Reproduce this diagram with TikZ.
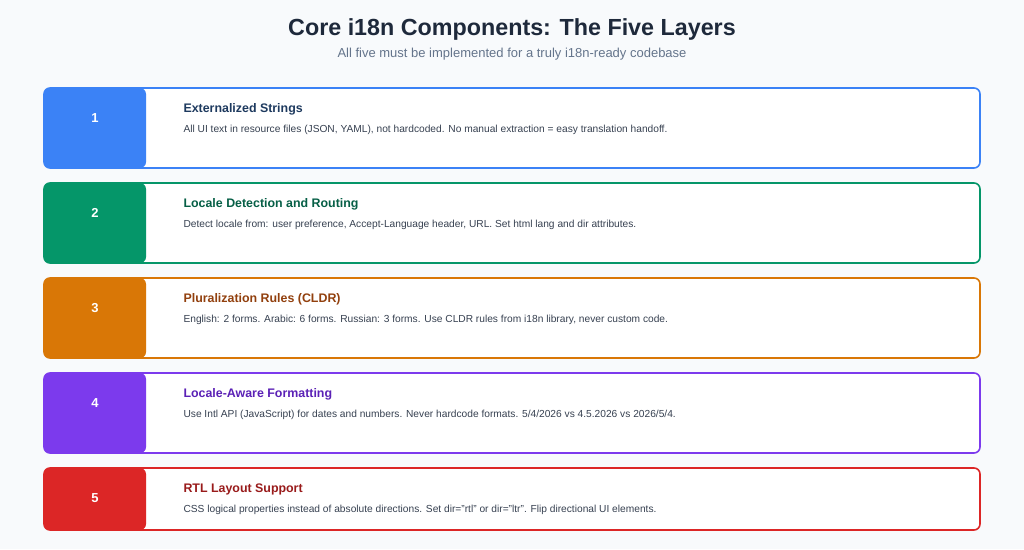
\documentclass[tikz,border=0pt]{standalone}
\usepackage{fontspec}
\setmainfont{Liberation Sans}
\definecolor{bg}{HTML}{F8FAFC}
\definecolor{ttl}{HTML}{1E293B}
\definecolor{sub}{HTML}{64748B}
\definecolor{desc}{HTML}{374151}
\definecolor{cA}{HTML}{3B82F6}\definecolor{tA}{HTML}{1E3A5F}
\definecolor{cB}{HTML}{059669}\definecolor{tB}{HTML}{065F46}
\definecolor{cC}{HTML}{D97706}\definecolor{tC}{HTML}{92400E}
\definecolor{cD}{HTML}{7C3AED}\definecolor{tD}{HTML}{5B21B6}
\definecolor{cE}{HTML}{DC2626}\definecolor{tE}{HTML}{991B1B}
\tikzset{
 card/.style={draw=#1,line width=1.6pt,fill=white,rounded corners=6pt},
 badge/.style={fill=#1,rounded corners=6pt},
 num/.style={text=white,font=\fontsize{13}{15}\selectfont\bfseries},
 ttext/.style={anchor=west,text=#1,font=\fontsize{12.4}{14}\selectfont\bfseries},
 dtext/.style={anchor=west,text=desc,font=\fontsize{10.2}{12}\selectfont}
}
\begin{document}
\begin{tikzpicture}[x=1pt,y=-1pt]
\path[fill=bg,use as bounding box] (0,0) rectangle (1024,549);
\node[text=ttl,font=\fontsize{23.3}{27}\selectfont\bfseries] (title) at (512,29) {Core i18n Components: The Five Layers};
\node[text=sub,font=\fontsize{13}{15}\selectfont] (subtitle) at (512,54) {All five must be implemented for a truly i18n-ready codebase};
\foreach \i/\y/\h/\c/\t/\T/\D in {
 1/88/80/cA/tA/{Externalized Strings}/{All UI text in resource files (JSON, YAML), not hardcoded. No manual extraction = easy translation handoff.},
 2/183/80/cB/tB/{Locale Detection and Routing}/{Detect locale from: user preference, Accept-Language header, URL. Set html lang and dir attributes.},
 3/278/80/cC/tC/{Pluralization Rules (CLDR)}/{English: 2 forms. Arabic: 6 forms. Russian: 3 forms. Use CLDR rules from i18n library, never custom code.},
 4/373/80/cD/tD/{Locale-Aware Formatting}/{Use Intl API (JavaScript) for dates and numbers. Never hardcode formats. 5/4/2026 vs 4.5.2026 vs 2026/5/4.},
 5/468/62/cE/tE/{RTL Layout Support}/{CSS logical properties instead of absolute directions. Set dir="rtl" or dir="ltr". Flip directional UI elements.}}{
 \draw[card=\c] (44,\y) rectangle (980,\y+\h);
 \fill[badge=\c] (44,\y) rectangle (146,\y+\h);
 \node[num] (n\i) at (95,\y+30) {\i};
 \node[ttext=\t] (t\i) at (180,\y+21) {\T};
 \node[dtext] (d\i) at (180,\y+42) {\D};
}
\end{tikzpicture}
\end{document}
